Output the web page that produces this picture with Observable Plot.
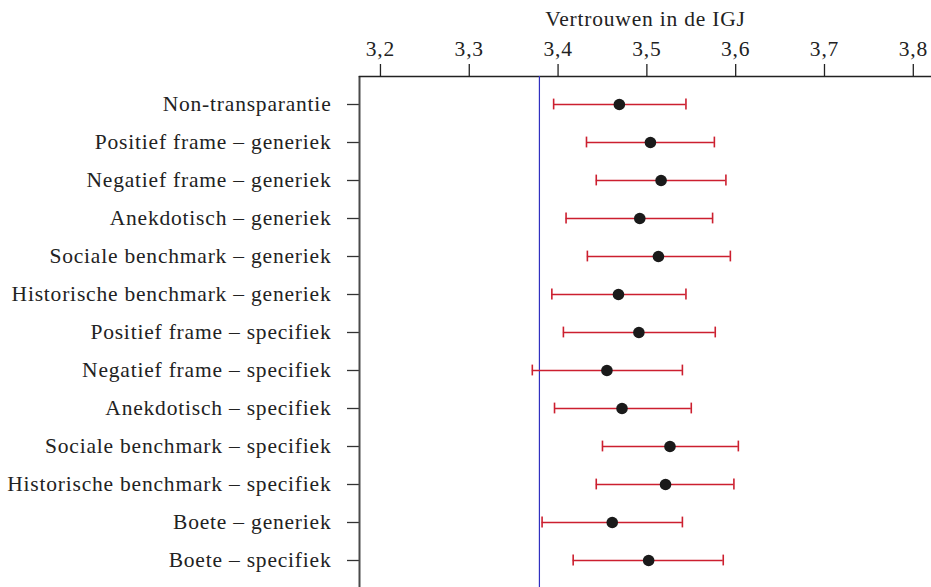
<!DOCTYPE html>
<html>
<head>
<meta charset="utf-8">
<script src="https://cdn.jsdelivr.net/npm/d3@7"></script>
<script src="https://cdn.jsdelivr.net/npm/@observablehq/plot@0.6"></script>
<style>
  html, body { margin: 0; padding: 0; background: #fff; }
  #chart svg { display: block; }
  #chart svg text { letter-spacing: 0.8px; }
</style>
</head>
<body>
<div id="chart"></div>
<script>
const conditions = [
  "Non-transparantie",
  "Positief frame – generiek",
  "Negatief frame – generiek",
  "Anekdotisch – generiek",
  "Sociale benchmark – generiek",
  "Historische benchmark – generiek",
  "Positief frame – specifiek",
  "Negatief frame – specifiek",
  "Anekdotisch – specifiek",
  "Sociale benchmark – specifiek",
  "Historische benchmark – specifiek",
  "Boete – generiek",
  "Boete – specifiek"
];
const means = [3.469, 3.504, 3.516, 3.492, 3.513, 3.468, 3.491, 3.455, 3.472, 3.526, 3.521, 3.461, 3.502];
const lower = [3.395, 3.432, 3.443, 3.409, 3.433, 3.393, 3.406, 3.371, 3.396, 3.450, 3.443, 3.382, 3.417];
const upper = [3.544, 3.576, 3.589, 3.574, 3.594, 3.544, 3.577, 3.540, 3.550, 3.603, 3.598, 3.540, 3.586];
const reference = [3.379];
const xTicks = [3.2, 3.3, 3.4, 3.5, 3.6, 3.7, 3.8];
const xLabel = "Vertrouwen in de IGJ";

const data = conditions.map((c, i) => ({c, m: means[i], lo: lower[i], hi: upper[i]}));
const xDomain = [3.1764, 3.8205];
const fmt = v => v.toFixed(1).replace(".", ",");
const capInset = 13.6;

const chart = Plot.plot({
  width: 931,
  height: 587,
  marginLeft: 359,
  marginRight: 0,
  marginTop: 76,
  marginBottom: 0,
  style: {fontFamily: "'Liberation Serif', serif", fontSize: "21.5px", color: "#222", background: "#fff"},
  x: {domain: xDomain, axis: null},
  y: {type: "band", domain: conditions, range: [83.56, 581.14], padding: 0, axis: null},
  marks: [
    Plot.axisX({anchor: "top", ticks: xTicks, tickFormat: fmt, tickSize: 13, tickPadding: 8, label: xLabel, labelArrow: "none", labelAnchor: "center", labelOffset: 66, fontSize: 21.5, stroke: "#222", strokeWidth: 1.3}),
    Plot.axisY({anchor: "left", tickSize: 12, tickPadding: 16, label: null, fontSize: 21.5, stroke: "#333", strokeWidth: 1.3}),
    Plot.ruleX([xDomain[0]], {stroke: "#4a4a4a", strokeWidth: 2}),
    Plot.frame({anchor: "top", stroke: "#222", strokeWidth: 1.5}),
    Plot.ruleX(reference, {stroke: "#3030c0", strokeWidth: 1.2}),
    Plot.ruleY(data, {y: "c", x1: "lo", x2: "hi", stroke: "#cc1f2f", strokeWidth: 1.6}),
    Plot.tickX(data, {y: "c", x: "lo", stroke: "#cc1f2f", strokeWidth: 1.6, insetTop: capInset, insetBottom: capInset}),
    Plot.tickX(data, {y: "c", x: "hi", stroke: "#cc1f2f", strokeWidth: 1.6, insetTop: capInset, insetBottom: capInset}),
    Plot.dot(data, {y: "c", x: "m", r: 5.8, fill: "#1a1a1a", stroke: "none"})
  ]
});
document.getElementById("chart").appendChild(chart);
</script>
</body>
</html>
